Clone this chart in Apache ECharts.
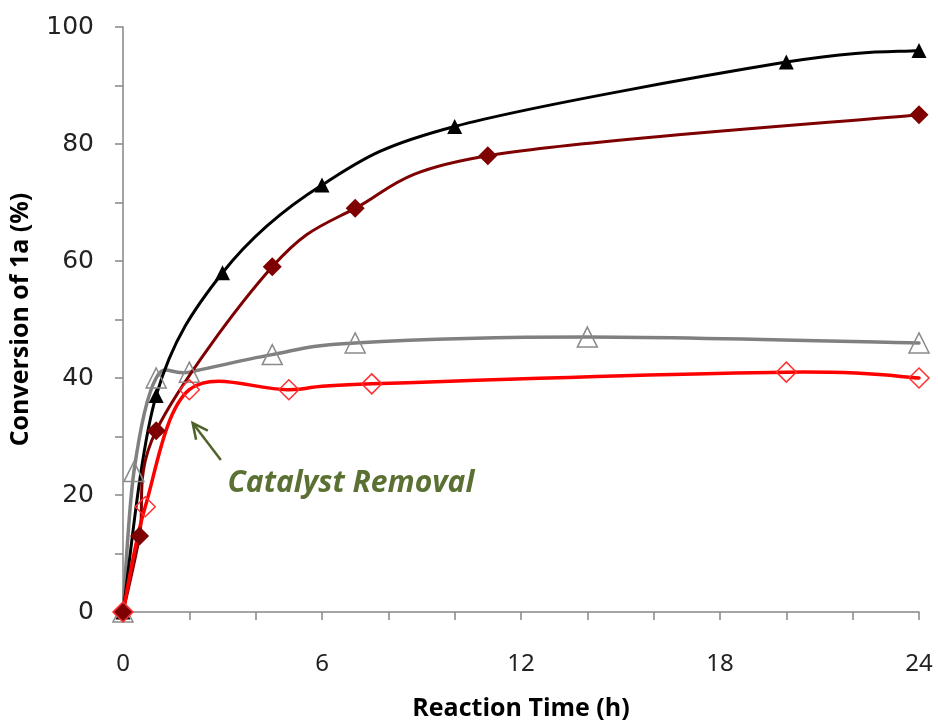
<!DOCTYPE html>
<html>
<head>
<meta charset="utf-8">
<script src="https://cdn.jsdelivr.net/npm/echarts@6/dist/echarts.min.js"></script>
<style>html,body{margin:0;padding:0;background:#fff;}#c{width:938px;height:726px;}</style>
</head>
<body>
<div id="c"></div>
<script>
// Data (time in h, conversion in %)
const blackTime = [0, 1, 3, 6, 10, 20, 24];
const blackConv = [0, 37, 58, 73, 83, 94, 96];
const darkRedTime = [0, 0.5, 1, 4.5, 7, 11, 24];
const darkRedConv = [0, 13, 31, 59, 69, 78, 85];
const grayTime = [0, 0.33, 1, 2, 4.5, 7, 14, 24];
const grayConv = [0, 24, 40, 41, 44, 46, 47, 46];
const redTime = [0, 0.67, 2, 5, 7.5, 20, 24];
const redConv = [0, 18, 38, 38, 39, 41, 40];
const xTicks = [0, 6, 12, 18, 24];
const yTicks = [0, 20, 40, 60, 80, 100];
const annotationText = 'Catalyst Removal';
const arrowFrom = [2.95, 26];
const arrowTo = [2.1, 32.3];
const textAnchor = [3.15, 22];

function pairs(xs, ys) { return xs.map((x, i) => [x, ys[i]]); }

// Excel-like smoothed curve (Catmull-Rom Bezier) drawn through the axis scales
function smoothCurve(data, color, width, z) {
  return {
    type: 'custom', data: data, z: z, silent: true,
    encode: {x: 0, y: 1},
    renderItem: function (params, api) {
      if (params.dataIndex !== 0) return null;
      const pts = data.map(p => api.coord(p));
      let d = 'M' + pts[0][0] + ',' + pts[0][1];
      for (let i = 0; i < pts.length - 1; i++) {
        const p0 = pts[i - 1] || pts[i];
        const p1 = pts[i];
        const p2 = pts[i + 1];
        const p3 = pts[i + 2] || pts[i + 1];
        const c1 = [p1[0] + (p2[0] - p0[0]) / 6, p1[1] + (p2[1] - p0[1]) / 6];
        const c2 = [p2[0] - (p3[0] - p1[0]) / 6, p2[1] - (p3[1] - p1[1]) / 6];
        d += ' C' + c1[0] + ',' + c1[1] + ' ' + c2[0] + ',' + c2[1] + ' ' + p2[0] + ',' + p2[1];
      }
      return {
        type: 'path',
        shape: {pathData: d},
        style: {stroke: color, lineWidth: width, fill: null, lineJoin: 'round', lineCap: 'round'}
      };
    }
  };
}

function markers(data, symbol, size, fill, border, bw, z) {
  return {
    type: 'line', data: data, symbol: symbol, symbolSize: size, showAllSymbol: true,
    lineStyle: {opacity: 0, width: 0},
    itemStyle: {color: fill, borderColor: border, borderWidth: bw}, z: z
  };
}

const chart = echarts.init(document.getElementById('c'), null, {renderer: 'canvas'});
const axisGray = '#868686';
const blackData = pairs(blackTime, blackConv);
const darkRedData = pairs(darkRedTime, darkRedConv);
const grayData = pairs(grayTime, grayConv);
const redData = pairs(redTime, redConv);

const option = {
  animation: false,
  backgroundColor: '#ffffff',
  grid: {left: 117, right: 19, top: 27, bottom: 113, containLabel: false},
  xAxis: {
    type: 'value', min: 0, max: 24, interval: 6,
    name: 'Reaction Time (h)', nameLocation: 'middle', nameGap: 84,
    nameTextStyle: {fontFamily: 'Open Sans', fontWeight: 'bold', fontSize: 25, color: '#000'},
    axisLine: {show: true, lineStyle: {color: axisGray, width: 1.5}},
    axisTick: {show: true, length: 8, lineStyle: {color: axisGray, width: 1.5}},
    minorTick: {show: true, splitNumber: 3, length: 8, lineStyle: {color: axisGray, width: 1.5}},
    axisLabel: {margin: 40, fontFamily: 'Noto Sans', fontSize: 24, color: '#222',
      formatter: v => xTicks.includes(v) ? String(v) : ''},
    splitLine: {show: false}
  },
  yAxis: {
    type: 'value', min: 0, max: 100, interval: 20,
    name: 'Conversion of 1a (%)', nameLocation: 'middle', nameGap: 90,
    nameTextStyle: {fontFamily: 'Open Sans', fontWeight: 'bold', fontSize: 25, color: '#000'},
    axisLine: {show: true, lineStyle: {color: axisGray, width: 1.5}},
    axisTick: {show: true, length: 8, lineStyle: {color: axisGray, width: 1.5}},
    minorTick: {show: true, splitNumber: 2, length: 8, lineStyle: {color: axisGray, width: 1.5}},
    axisLabel: {margin: 29, fontFamily: 'DejaVu Sans', fontSize: 25, color: '#222',
      formatter: v => yTicks.includes(v) ? String(v) : ''},
    splitLine: {show: false}
  },
  series: [
    smoothCurve(grayData, '#808080', 3.5, 2),
    smoothCurve(blackData, '#000000', 3, 3),
    smoothCurve(darkRedData, '#7f0000', 3, 4),
    smoothCurve(redData, '#ff0000', 3.5, 6),
    markers(grayData, 'triangle', 20, 'rgba(0,0,0,0)', '#8a8a8a', 1.5, 7),
    markers(blackData, 'triangle', 15, '#000000', '#000000', 0, 8),
    markers(darkRedData, 'diamond', 19, '#7f0000', '#7f0000', 0, 9),
    markers(redData, 'diamond', 20, 'rgba(0,0,0,0)', '#ff3030', 1.5, 10)
  ]
};
chart.setOption(option);

function drawAnnotation() {
  const p0 = chart.convertToPixel({gridIndex: 0}, arrowFrom);
  const p1 = chart.convertToPixel({gridIndex: 0}, arrowTo);
  const pt = chart.convertToPixel({gridIndex: 0}, textAnchor);
  const ang = Math.atan2(p0[1] - p1[1], p0[0] - p1[0]);
  const hl = 17, ha = 0.45;
  const h1 = [p1[0] + hl * Math.cos(ang + ha), p1[1] + hl * Math.sin(ang + ha)];
  const h2 = [p1[0] + hl * Math.cos(ang - ha), p1[1] + hl * Math.sin(ang - ha)];
  const green = '#4f6228';
  chart.setOption({
    graphic: [
      {type: 'line', shape: {x1: p0[0], y1: p0[1], x2: p1[0], y2: p1[1]}, style: {stroke: green, lineWidth: 2.5}, z: 10},
      {type: 'polyline', shape: {points: [h1, p1, h2]}, style: {stroke: green, lineWidth: 2.5, fill: null}, z: 10},
      {type: 'text', x: pt[0], y: pt[1], style: {text: annotationText, fill: '#5b7133', font: 'italic bold 30px "Open Sans"', textAlign: 'left', textVerticalAlign: 'middle'}, z: 10}
    ]
  });
}
drawAnnotation();
</script>
</body>
</html>
